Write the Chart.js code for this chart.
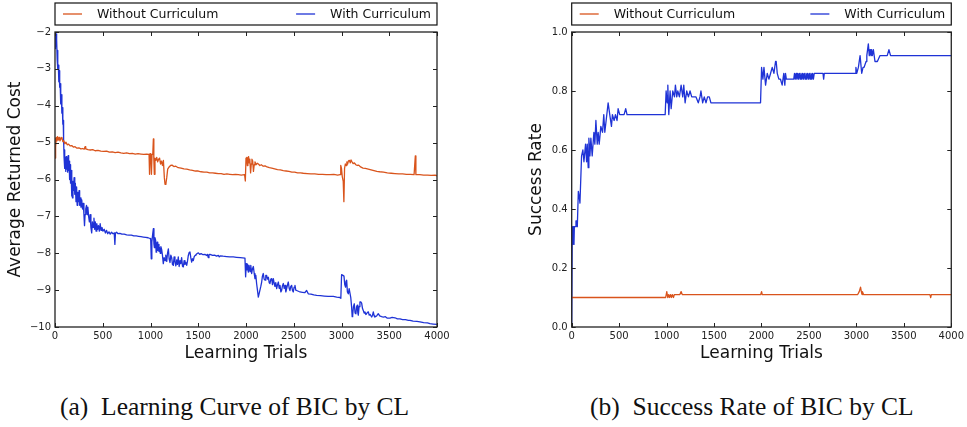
<!DOCTYPE html>
<html>
<head>
<meta charset="utf-8">
<script src="https://cdn.jsdelivr.net/npm/chart.js@4"></script>
<style>
  body { margin: 0; background: #fff; width: 967px; height: 427px; position: relative; overflow: hidden; }
  canvas { position: absolute; top: 0; }
  #costChart { left: 0; }
  #rateChart { left: 480px; }
  .caption { position: absolute; top: 394px; font-family: "Liberation Serif", "Times New Roman", serif; font-size: 25.5px; line-height: 25.5px; color: #111; white-space: nowrap; }
</style>
</head>
<body>
<canvas id="costChart" width="480" height="370"></canvas>
<canvas id="rateChart" width="487" height="370"></canvas>
<div class="caption" style="left:60px">(a)&nbsp; Learning Curve of BIC by CL</div>
<div class="caption" style="left:590px">(b)&nbsp; Success Rate of BIC by CL</div>
<script>
// series labels and colours
const seriesNames = ['Without Curriculum', 'With Curriculum'];
const seriesColors = ['#d9541c', '#1f33d6'];

// axis ticks
const trialTicks = [0, 500, 1000, 1500, 2000, 2500, 3000, 3500, 4000];
const costTicks = [-10, -9, -8, -7, -6, -5, -4, -3, -2];
const rateTicks = [0, 0.2, 0.4, 0.6, 0.8, 1.0];

// average returned cost, [trial, cost]
const costWithout = [
  [0,-5.42],[4,-4.88],[9,-5.12],[14,-4.86],[20,-4.95],[27,-4.84],[35,-4.93],[43,-4.86],[52,-4.95],[62,-4.9],
  [72,-4.86],[82,-4.97],[92,-4.95],[103,-5.03],[115,-4.99],[128,-5.06],[142,-5.04],[158,-5.09],[175,-5.08],[192,-5.12],
  [210,-5.11],[230,-5.15],[250,-5.14],[270,-5.17],[290,-5.16],[305,-5.18],[315,-5.11],[322,-5.17],[345,-5.19],[370,-5.2],
  [395,-5.19],[420,-5.22],[450,-5.21],[480,-5.23],[510,-5.24],[540,-5.23],[570,-5.26],[600,-5.25],[630,-5.27],[660,-5.26],
  [690,-5.28],[720,-5.29],[750,-5.28],[780,-5.3],[810,-5.29],[840,-5.31],[870,-5.3],[900,-5.31],[930,-5.32],[960,-5.31],
  [985,-5.32],[990,-5.86],[995,-5.3],[1003,-5.33],[1010,-5.86],[1016,-5.32],[1024,-5.3],[1030,-4.9],[1035,-5.45],[1040,-5.86],
  [1047,-5.42],[1056,-5.48],[1065,-5.4],[1075,-5.52],[1085,-5.45],[1095,-5.42],[1105,-5.58],[1115,-5.5],[1125,-5.62],[1135,-5.48],
  [1145,-5.95],[1152,-6.13],[1162,-6.1],[1170,-5.95],[1180,-5.72],[1195,-5.66],[1210,-5.62],[1225,-5.61],[1245,-5.65],[1265,-5.64],
  [1290,-5.68],[1320,-5.69],[1350,-5.71],[1380,-5.72],[1410,-5.74],[1440,-5.75],[1470,-5.77],[1500,-5.77],[1530,-5.79],[1560,-5.8],
  [1590,-5.8],[1620,-5.82],[1650,-5.82],[1680,-5.83],[1710,-5.84],[1740,-5.84],[1770,-5.86],[1800,-5.85],[1830,-5.86],[1860,-5.87],
  [1890,-5.86],[1920,-5.87],[1950,-5.88],[1985,-5.87],[1993,-6.04],[2000,-5.42],[2008,-5.4],[2014,-5.62],[2020,-5.42],[2027,-5.38],
  [2033,-5.55],[2040,-5.45],[2048,-5.82],[2055,-5.58],[2062,-5.45],[2070,-5.5],[2078,-5.78],[2086,-5.6],[2094,-5.52],[2105,-5.6],
  [2118,-5.56],[2130,-5.58],[2145,-5.62],[2160,-5.6],[2180,-5.64],[2200,-5.63],[2220,-5.66],[2245,-5.68],[2270,-5.69],[2300,-5.71],
  [2330,-5.73],[2360,-5.74],[2390,-5.76],[2420,-5.77],[2450,-5.78],[2480,-5.8],[2510,-5.8],[2540,-5.82],[2570,-5.82],[2600,-5.83],
  [2640,-5.84],[2680,-5.85],[2720,-5.85],[2760,-5.86],[2800,-5.86],[2840,-5.87],[2880,-5.87],[2920,-5.86],[2960,-5.88],[2985,-5.87],
  [2992,-5.62],[3000,-5.7],[3008,-5.92],[3018,-6.05],[3025,-6.6],[3032,-5.7],[3040,-5.58],[3048,-5.62],[3056,-5.52],[3064,-5.58],
  [3072,-5.5],[3082,-5.48],[3092,-5.55],[3100,-5.47],[3110,-5.52],[3122,-5.57],[3135,-5.55],[3150,-5.6],[3165,-5.62],[3180,-5.61],
  [3200,-5.66],[3225,-5.69],[3250,-5.7],[3280,-5.72],[3310,-5.74],[3340,-5.76],[3370,-5.78],[3400,-5.79],[3440,-5.8],[3480,-5.82],
  [3520,-5.83],[3560,-5.84],[3600,-5.85],[3640,-5.85],[3680,-5.86],[3720,-5.86],[3760,-5.87],[3767,-5.87],[3773,-5.36],[3779,-5.87],
  [3820,-5.87],[3860,-5.88],[3900,-5.88],[3940,-5.89],[3980,-5.88],[4000,-5.9]
];

const costWith = [
  [0,-2.45],[3,-2.0],[7,-2.3],[11,-2.05],[15,-2.4],[19,-2.2],[23,-2.75],[27,-2.5],[31,-3.0],[35,-2.9],
  [40,-3.35],[44,-3.05],[49,-3.5],[54,-3.4],[60,-3.95],[66,-3.7],[72,-4.2],[77,-4.05],[82,-4.5],[86,-4.4],
  [90,-4.9],[95,-5.4],[99,-5.2],[104,-5.7],[108,-5.4],[113,-5.78],[118,-5.38],[123,-5.72],[128,-5.42],[133,-5.8],
  [138,-5.35],[143,-5.75],[148,-5.5],[153,-6.0],[158,-5.6],[163,-6.1],[168,-5.75],[173,-6.45],[178,-5.95],[183,-6.5],
  [188,-6.05],[193,-6.3],[200,-5.95],[207,-6.4],[213,-6.1],[220,-6.6],[226,-6.2],[232,-6.7],[238,-6.35],[245,-6.6],
  [252,-6.3],[258,-6.7],[265,-6.5],[272,-6.75],[280,-6.55],[288,-6.8],[296,-6.65],[303,-6.95],[309,-7.25],[315,-6.95],
  [322,-6.8],[330,-6.7],[337,-6.95],[344,-6.75],[352,-7.0],[360,-7.15],[368,-6.95],[376,-7.3],[384,-7.45],[392,-7.15],
  [400,-7.3],[408,-7.05],[415,-7.35],[422,-7.15],[430,-7.4],[438,-7.2],[446,-7.35],[455,-7.25],[464,-7.4],[473,-7.2],
  [482,-7.38],[492,-7.3],[502,-7.4],[515,-7.35],[528,-7.45],[540,-7.38],[552,-7.47],[565,-7.42],[578,-7.48],[592,-7.43],
  [606,-7.47],[620,-7.45],[627,-7.76],[633,-7.46],[645,-7.43],[660,-7.47],[680,-7.46],[700,-7.48],[725,-7.48],[750,-7.5],
  [775,-7.51],[800,-7.51],[825,-7.53],[850,-7.53],[875,-7.54],[900,-7.55],[925,-7.56],[950,-7.57],[975,-7.58],[995,-7.6],
  [1002,-7.62],[1008,-8.15],[1014,-7.7],[1022,-7.5],[1030,-7.33],[1036,-7.75],[1041,-7.85],[1047,-7.58],[1054,-7.65],[1059,-7.97],
  [1064,-7.8],[1070,-7.7],[1076,-7.92],[1082,-7.76],[1089,-7.95],[1095,-7.85],[1102,-8.0],[1109,-7.82],[1117,-7.9],[1125,-8.05],
  [1134,-8.28],[1143,-8.12],[1152,-8.2],[1160,-8.05],[1170,-8.22],[1178,-8.0],[1187,-7.88],[1195,-8.15],[1204,-8.25],[1213,-8.05],
  [1222,-8.12],[1230,-8.3],[1239,-8.33],[1247,-8.1],[1256,-8.22],[1265,-8.34],[1274,-8.18],[1282,-8.3],[1291,-8.1],[1300,-8.36],
  [1309,-8.2],[1317,-8.28],[1326,-8.12],[1335,-8.35],[1344,-8.37],[1352,-8.2],[1361,-8.3],[1370,-8.25],[1379,-8.33],[1388,-8.2],
  [1396,-8.06],[1405,-7.98],[1413,-7.96],[1422,-8.12],[1431,-8.24],[1440,-8.15],[1448,-8.2],[1457,-8.1],[1466,-8.06],[1475,-8.04],
  [1483,-8.02],[1492,-8.0],[1501,-7.99],[1515,-8.03],[1530,-8.01],[1550,-8.04],[1570,-8.03],[1588,-8.06],[1596,-8.03],[1605,-8.12],
  [1612,-8.04],[1623,-8.03],[1650,-8.06],[1670,-8.05],[1693,-8.08],[1710,-8.06],[1720,-8.1],[1730,-8.07],[1760,-8.08],[1797,-8.09],
  [1830,-8.1],[1867,-8.1],[1900,-8.11],[1940,-8.12],[1989,-8.13],[1996,-8.64],[2003,-8.28],[2010,-8.45],[2017,-8.3],[2024,-8.51],
  [2032,-8.33],[2042,-8.5],[2050,-8.33],[2059,-8.55],[2068,-8.42],[2077,-8.36],[2086,-8.55],[2094,-8.69],[2103,-8.6],[2111,-8.82],
  [2120,-9.0],[2129,-9.19],[2137,-9.1],[2146,-9.1],[2155,-8.9],[2164,-8.78],[2172,-8.62],[2181,-8.55],[2190,-8.7],[2199,-8.73],
  [2207,-8.6],[2216,-8.6],[2225,-8.7],[2234,-8.65],[2243,-8.8],[2251,-8.82],[2260,-8.7],[2269,-8.69],[2277,-8.85],[2286,-8.69],
  [2295,-8.82],[2303,-8.9],[2312,-8.8],[2321,-8.96],[2330,-8.85],[2339,-8.78],[2347,-8.95],[2356,-8.87],[2365,-9.05],[2373,-9.01],
  [2382,-8.88],[2391,-8.82],[2400,-8.95],[2409,-8.87],[2417,-9.05],[2426,-8.96],[2435,-8.85],[2443,-8.78],[2452,-8.95],[2460,-9.01],
  [2469,-8.9],[2478,-8.87],[2486,-9.0],[2495,-9.05],[2504,-8.92],[2513,-8.87],[2521,-9.0],[2530,-9.01],[2548,-9.03],[2565,-9.05],
  [2590,-9.06],[2615,-9.07],[2635,-9.01],[2652,-9.1],[2680,-9.11],[2710,-9.13],[2740,-9.14],[2780,-9.15],[2820,-9.16],[2860,-9.17],
  [2914,-9.17],[2950,-9.19],[2984,-9.2],[2993,-9.22],[3001,-8.58],[3015,-8.6],[3026,-8.62],[3034,-8.85],[3043,-8.92],[3048,-8.75],
  [3054,-8.73],[3062,-9.05],[3071,-9.1],[3080,-8.96],[3089,-8.96],[3097,-9.2],[3106,-9.46],[3112,-9.72],[3117,-9.68],[3125,-9.45],
  [3134,-9.37],[3142,-9.62],[3151,-9.64],[3158,-9.45],[3165,-9.41],[3171,-9.62],[3176,-9.68],[3184,-9.45],[3193,-9.32],[3202,-9.32],
  [3211,-9.35],[3220,-9.5],[3228,-9.55],[3237,-9.62],[3246,-9.59],[3255,-9.66],[3263,-9.64],[3272,-9.6],[3281,-9.59],[3290,-9.68],
  [3300,-9.66],[3316,-9.73],[3325,-9.68],[3333,-9.59],[3342,-9.7],[3350,-9.73],[3368,-9.7],[3385,-9.64],[3400,-9.7],[3420,-9.72],
  [3438,-9.73],[3460,-9.72],[3480,-9.76],[3507,-9.76],[3530,-9.74],[3560,-9.75],[3585,-9.78],[3612,-9.78],[3640,-9.8],[3670,-9.8],
  [3700,-9.82],[3717,-9.82],[3750,-9.84],[3790,-9.85],[3822,-9.86],[3860,-9.88],[3900,-9.89],[3926,-9.91],[3960,-9.92],[4000,-9.93]
];

// success rate, [trial, rate]
const rateWithout = [
  [0,0.1],[990,0.1],[1002,0.12],[1012,0.1],[1020,0.11],[1030,0.1],[1040,0.11],[1050,0.1],[1060,0.11],[1072,0.1],
  [1082,0.11],[1140,0.11],[1153,0.12],[1165,0.11],[1992,0.11],[2001,0.12],[2008,0.11],[3014,0.11],[3030,0.12],[3044,0.135],
  [3052,0.12],[3060,0.11],[3064,0.12],[3075,0.11],[3775,0.11],[3783,0.1],[3790,0.11],[4000,0.11]
];

const rateWith = [
  [0,0],[5,0.28],[10,0.34],[17,0.34],[24,0.28],[28,0.34],[35,0.34],[45,0.36],[52,0.36],[59,0.34],
  [70,0.46],[80,0.44],[87,0.42],[104,0.58],[118,0.6],[129,0.56],[146,0.62],[157,0.56],[164,0.62],[174,0.54],
  [181,0.64],[192,0.58],[202,0.64],[216,0.58],[234,0.66],[244,0.62],[255,0.7],[269,0.62],[279,0.66],[290,0.62],
  [307,0.68],[325,0.66],[338,0.72],[349,0.66],[384,0.76],[401,0.72],[419,0.68],[429,0.72],[447,0.7],[461,0.72],
  [478,0.7],[489,0.74],[506,0.72],[524,0.72],[552,0.72],[569,0.74],[583,0.72],[985,0.72],[995,0.8],[1006,0.76],
  [1013,0.82],[1023,0.72],[1037,0.8],[1048,0.74],[1065,0.8],[1083,0.78],[1093,0.82],[1107,0.78],[1118,0.8],[1135,0.78],
  [1153,0.82],[1170,0.78],[1181,0.82],[1195,0.76],[1212,0.8],[1230,0.78],[1247,0.8],[1265,0.78],[1292,0.78],[1310,0.78],
  [1334,0.76],[1352,0.78],[1362,0.8],[1380,0.76],[1397,0.78],[1415,0.76],[1432,0.78],[1450,0.78],[1467,0.76],[1990,0.76],
  [2001,0.88],[2015,0.84],[2026,0.88],[2043,0.82],[2061,0.86],[2078,0.84],[2096,0.86],[2113,0.88],[2131,0.86],[2148,0.9],
  [2155,0.9],[2166,0.86],[2183,0.84],[2200,0.84],[2218,0.82],[2235,0.86],[2246,0.82],[2253,0.86],[2262,0.84],[2340,0.84],
  [2348,0.86],[2356,0.84],[2365,0.86],[2373,0.84],[2382,0.86],[2390,0.84],[2399,0.86],[2408,0.84],[2416,0.86],[2425,0.84],
  [2434,0.86],[2442,0.84],[2451,0.86],[2460,0.84],[2469,0.86],[2477,0.84],[2486,0.86],[2495,0.84],[2504,0.86],[2512,0.84],
  [2521,0.86],[2530,0.84],[2538,0.86],[2547,0.84],[2556,0.86],[2648,0.86],[2655,0.84],[2662,0.86],[2986,0.86],[2995,0.88],
  [3004,0.86],[3021,0.88],[3039,0.92],[3056,0.86],[3070,0.88],[3081,0.88],[3102,0.9],[3110,0.92],[3126,0.96],[3136,0.92],
  [3144,0.94],[3154,0.92],[3160,0.94],[3168,0.92],[3179,0.94],[3196,0.9],[3221,0.9],[3249,0.92],[3325,0.92],[3343,0.94],
  [3360,0.92],[4000,0.92]
];

const toPoints = rows => rows.map(([x, y]) => ({ x: x, y: y }));

Chart.defaults.font.family = '"DejaVu Sans", sans-serif';
Chart.defaults.color = '#222';

// inward tick marks on all four sides plus the axes frame
const frameTicks = {
  id: 'frameTicks',
  afterDatasetsDraw(chart) {
    const { ctx, chartArea: a, scales } = chart;
    const len = 4;
    ctx.save();
    ctx.strokeStyle = '#222';
    ctx.lineWidth = 1;
    ctx.beginPath();
    scales.x.ticks.forEach(t => {
      const px = Math.round(scales.x.getPixelForValue(t.value)) + 0.5;
      ctx.moveTo(px, a.bottom); ctx.lineTo(px, a.bottom - len);
      ctx.moveTo(px, a.top); ctx.lineTo(px, a.top + len);
    });
    scales.y.ticks.forEach(t => {
      const py = Math.round(scales.y.getPixelForValue(t.value)) + 0.5;
      ctx.moveTo(a.left, py); ctx.lineTo(a.left + len, py);
      ctx.moveTo(a.right, py); ctx.lineTo(a.right - len, py);
    });
    ctx.stroke();
    ctx.lineWidth = 1.3;
    ctx.strokeRect(a.left, a.top, a.right - a.left, a.bottom - a.top);
    ctx.restore();
  }
};

// boxed legend above the plot, items pushed to both ends
const boxLegend = {
  id: 'boxLegend',
  afterDraw(chart) {
    const { ctx, chartArea: a } = chart;
    const top = 3, h = 22, mid = top + h / 2;
    const sets = chart.data.datasets;
    ctx.save();
    ctx.strokeStyle = '#111';
    ctx.lineWidth = 1.2;
    ctx.strokeRect(a.left, top, a.right - a.left, h);
    ctx.font = '12.5px "DejaVu Sans", sans-serif';
    ctx.textBaseline = 'middle';
    ctx.fillStyle = '#111';
    ctx.lineWidth = 1.3;
    // first item at the left end
    ctx.strokeStyle = sets[0].borderColor;
    ctx.beginPath(); ctx.moveTo(a.left + 8, mid); ctx.lineTo(a.left + 27, mid); ctx.stroke();
    ctx.textAlign = 'left';
    ctx.fillText(sets[0].label, a.left + 42, mid + 0.5);
    // second item at the right end
    const w = ctx.measureText(sets[1].label).width;
    const tx = a.right - 6 - w;
    ctx.strokeStyle = sets[1].borderColor;
    ctx.beginPath(); ctx.moveTo(tx - 34, mid); ctx.lineTo(tx - 15, mid); ctx.stroke();
    ctx.fillText(sets[1].label, tx, mid + 0.5);
    ctx.restore();
  }
};

function makeChart(id, series, yTicks, yFormat, yTitle, yWidth, yTitlePad, rightPad) {
  return new Chart(document.getElementById(id), {
    type: 'line',
    data: {
      datasets: series.map((rows, i) => ({
        label: seriesNames[i],
        data: toPoints(rows),
        borderColor: seriesColors[i],
        borderWidth: 1.3,
        borderJoinStyle: 'round',
        pointRadius: 0,
        tension: 0,
        fill: false
      }))
    },
    options: {
      responsive: false,
      animation: false,
      layout: { padding: { top: 32, right: rightPad, bottom: 0, left: 0 } },
      plugins: { legend: { display: false }, tooltip: { enabled: false } },
      scales: {
        x: {
          type: 'linear',
          min: trialTicks[0],
          max: trialTicks[trialTicks.length - 1],
          afterBuildTicks: s => { s.ticks = trialTicks.map(v => ({ value: v })); },
          afterFit: s => { s.height = 43; },
          grid: { display: false, drawTicks: false },
          border: { display: false },
          ticks: { font: { size: 10 }, padding: 3, maxRotation: 0, autoSkip: false, callback: v => String(v) },
          title: { display: true, text: 'Learning Trials', font: { size: 17 }, color: '#111', padding: { top: 0, bottom: 6 } }
        },
        y: {
          type: 'linear',
          min: yTicks[0],
          max: yTicks[yTicks.length - 1],
          afterBuildTicks: s => { s.ticks = yTicks.map(v => ({ value: v })); },
          afterFit: s => { s.width = yWidth; },
          grid: { display: false, drawTicks: false },
          border: { display: false },
          ticks: { font: { size: 10 }, padding: 4, autoSkip: false, callback: yFormat },
          title: { display: true, text: yTitle, font: { size: 17 }, color: '#111', padding: { top: yTitlePad, bottom: 0 } }
        }
      }
    },
    plugins: [frameTicks, boxLegend]
  });
}

makeChart('costChart', [costWithout, costWith], costTicks,
  v => v < 0 ? '\u2212' + Math.abs(v) : String(v),
  'Average Returned Cost', 55, 5, 43);

makeChart('rateChart', [rateWithout, rateWith], rateTicks,
  v => v.toFixed(1),
  'Success Rate', 91.7, 46, 14);
</script>
</body>
</html>
